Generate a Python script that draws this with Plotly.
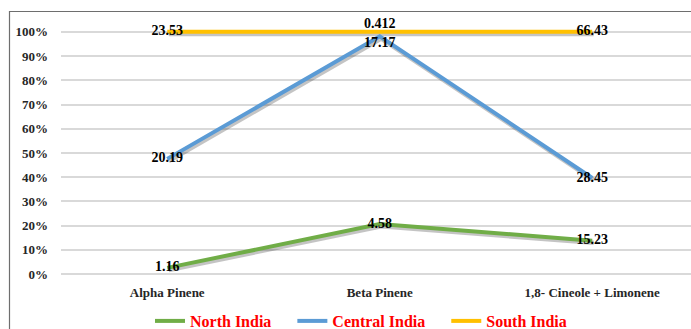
import numpy as np
import plotly.graph_objects as go

# Compound categories and relative abundance per region
compounds = ["Alpha Pinene", "Beta Pinene", "1,8- Cineole + Limonene"]
north_india = [1.16, 4.58, 15.23]
central_india = [20.19, 17.17, 28.45]
south_india = [23.53, 0.412, 66.43]

regions = ["North India", "Central India", "South India"]
colors = ["#70AD47", "#5B9BD5", "#FFC000"]
y_ticks = [0, 10, 20, 30, 40, 50, 60, 70, 80, 90, 100]
y_tick_labels = [f"{v}%" for v in y_ticks]

# 100% stacked line: cumulative share of each region per compound
values = np.array([north_india, central_india, south_india], dtype=float)
shares = values / values.sum(axis=0) * 100.0
stacked = np.cumsum(shares, axis=0)

label_positions = [
    ["middle center", "middle center", "middle center"],
    ["middle center", "bottom center", "middle center"],
    ["middle center", "top center", "middle center"],
]

W, H = 691, 329
M_L, M_R, M_T, M_B = 61, 0, 27, 50
X_RANGE = [-0.5, 2.465]
Y_RANGE = [-2, 102]

plot_w = W - M_L - M_R
plot_h = H - M_T - M_B
px_x = plot_w / (X_RANGE[1] - X_RANGE[0])
px_y = plot_h / (Y_RANGE[1] - Y_RANGE[0])

# drop-shadow offset (pixels) expressed in axis units
shadow_dx = 1.5 / px_x
shadow_dy = 2.2 / px_y

serif = "Times New Roman, Liberation Serif, DejaVu Serif, serif"
tick_font = dict(family=serif, size=13, color="#262626", weight="bold")

fig = go.Figure()

# soft shadows under each line (base axes, shifted ranges)
for i in range(3):
    fig.add_trace(go.Scatter(
        x=compounds, y=stacked[i], mode="lines",
        line=dict(color="rgba(60,60,60,0.3)", width=4.5),
        showlegend=False, hoverinfo="skip",
        xaxis="x", yaxis="y",
    ))

# main lines with value labels
for i in range(3):
    fig.add_trace(go.Scatter(
        x=compounds, y=stacked[i], mode="lines+text",
        name=regions[i] + "\u00a0\u00a0\u00a0\u00a0",
        line=dict(color=colors[i], width=4),
        text=[f"{v:g}" for v in values[i]],
        textposition=label_positions[i],
        textfont=dict(family=serif, size=14, color="#000000", weight="bold"),
        cliponaxis=False,
        xaxis="x2", yaxis="y2",
    ))

fig.update_layout(
    width=W, height=H,
    margin=dict(l=M_L, r=M_R, t=M_T, b=M_B, autoexpand=False),
    paper_bgcolor="white", plot_bgcolor="white",
    font=dict(family=serif),
    xaxis=dict(
        type="category", categoryorder="array", categoryarray=compounds,
        range=[X_RANGE[0] - shadow_dx, X_RANGE[1] - shadow_dx],
        showgrid=False, zeroline=False, showline=False,
        showticklabels=False, ticks="",
    ),
    yaxis=dict(
        range=[Y_RANGE[0] + shadow_dy, Y_RANGE[1] + shadow_dy],
        showgrid=False, zeroline=False, showline=False,
        showticklabels=False, ticks="",
    ),
    xaxis2=dict(
        type="category", categoryorder="array", categoryarray=compounds,
        overlaying="x", anchor="y2", side="bottom", range=X_RANGE,
        showgrid=False, zeroline=False, showline=False,
        ticks="", ticklabelstandoff=4, tickfont=tick_font,
    ),
    yaxis2=dict(
        overlaying="y", anchor="x2", side="left", range=Y_RANGE,
        tickmode="array", tickvals=y_ticks, ticktext=y_tick_labels,
        showgrid=True, gridcolor="#D9D9D9", gridwidth=1.5,
        zeroline=False, showline=False, ticks="", ticklabelstandoff=12,
        tickfont=tick_font,
    ),
    legend=dict(
        orientation="h", x=(150 - M_L) / plot_w, xanchor="left",
        y=(M_T + plot_h - 321) / plot_h, yanchor="middle",
        font=dict(family=serif, size=16, color="#FF0000", weight="bold"),
        bgcolor="rgba(0,0,0,0)",
    ),
    showlegend=True,
)

# chart frame (left and top edges visible inside the canvas)
fig.add_shape(
    type="rect", xref="paper", yref="paper",
    x0=(9.5 - M_L) / plot_w, x1=(W + 10 - M_L) / plot_w,
    y0=(M_T + plot_h - (H + 10)) / plot_h, y1=(M_T + plot_h - 11.5) / plot_h,
    line=dict(color="#6E6E6E", width=1.2), fillcolor="rgba(0,0,0,0)",
    layer="below",
)

fig.write_html("out.html")
